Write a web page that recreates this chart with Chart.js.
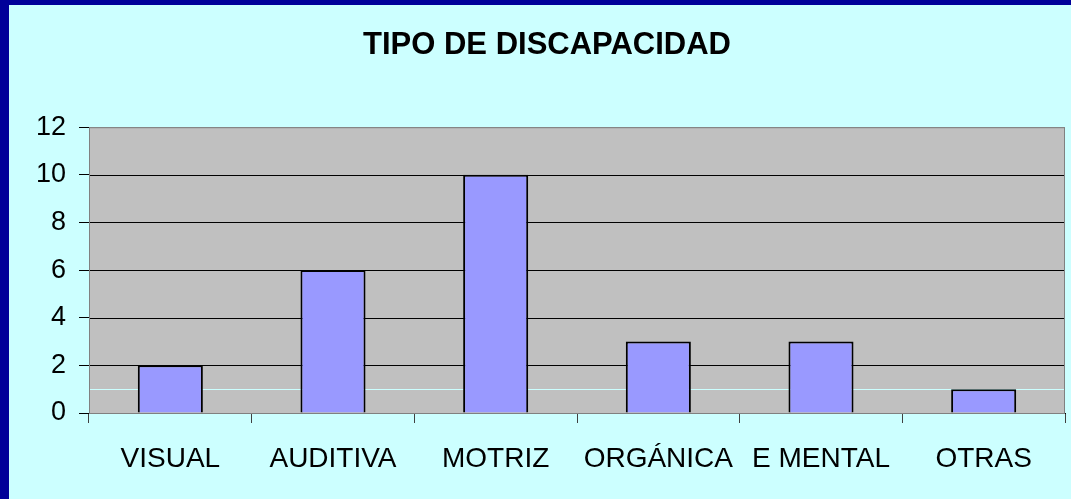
<!DOCTYPE html>
<html>
<head>
<meta charset="utf-8">
<script src="https://cdn.jsdelivr.net/npm/chart.js@4.4.1/dist/chart.umd.min.js"></script>
<style>
  html, body { margin: 0; padding: 0; background: #000099; }
  #marco {
    position: absolute; left: 9px; top: 5px;
    width: 1062px; height: 494px; background: #CCFFFF;
  }
</style>
</head>
<body>
<div id="marco"><canvas id="grafico" width="1062" height="494"></canvas></div>
<script>
// Datos
const categorias = ['VISUAL', 'AUDITIVA', 'MOTRIZ', 'ORGÁNICA', 'E MENTAL', 'OTRAS'];
const valores = [2, 6, 10, 3, 3, 1];
const titulo = 'TIPO DE DISCAPACIDAD';

const fuente = "'Liberation Sans', Arial, sans-serif";

// Fondo gris del área de trazado y línea clara en el valor 1
const fondoPlot = {
  id: 'fondoPlot',
  beforeDatasetsDraw(chart) {
    const { ctx, chartArea: a, scales } = chart;
    ctx.save();
    ctx.fillStyle = '#C0C0C0';
    ctx.fillRect(a.left, a.top, a.right - a.left, a.bottom - a.top);
    // redibujar líneas de cuadrícula encima del fondo
    ctx.strokeStyle = '#000000';
    ctx.lineWidth = 1;
    [2, 4, 6, 8, 10].forEach((v) => {
      const y = Math.round(scales.y.getPixelForValue(v)) + 0.5;
      ctx.beginPath();
      ctx.moveTo(a.left, y);
      ctx.lineTo(a.right, y);
      ctx.stroke();
    });
    const y1 = Math.round(scales.y.getPixelForValue(1)) + 0.5;
    ctx.strokeStyle = '#CCFFFF';
    ctx.beginPath();
    ctx.moveTo(a.left, y1);
    ctx.lineTo(a.right, y1);
    ctx.stroke();
    ctx.strokeStyle = '#808080';
    ctx.strokeRect(a.left + 0.5, a.top + 0.5, a.right - a.left - 1, a.bottom - a.top);
    ctx.restore();
  },
};

new Chart(document.getElementById('grafico'), {
  type: 'bar',
  data: {
    labels: categorias,
    datasets: [{
      data: valores,
      backgroundColor: '#9999FF',
      borderColor: '#000000',
      borderWidth: 2,
      barPercentage: 0.4,
      categoryPercentage: 1,
    }],
  },
  options: {
    responsive: false,
    animation: false,
    layout: { padding: { left: 20, right: 6, top: 0, bottom: 0 } },
    plugins: {
      legend: { display: false },
      tooltip: { enabled: false },
      title: {
        display: true,
        text: titulo,
        color: '#000000',
        font: { family: fuente, size: 31, weight: 'bold' },
        padding: { top: 22, bottom: 63 },
      },
    },
    scales: {
      x: {
        offset: true,
        grid: {
          offset: true,
          drawOnChartArea: false,
          drawTicks: true,
          tickLength: 10,
          tickColor: '#404040',
        },
        border: { color: '#000000', width: 1 },
        ticks: {
          color: '#000000',
          padding: 19,
          maxRotation: 0,
          font: { family: fuente, size: 28 },
        },
        afterFit: (s) => { s.height = 86; },
      },
      y: {
        min: 0,
        max: 12,
        ticks: {
          stepSize: 2,
          color: '#000000',
          padding: 13,
          font: { family: fuente, size: 27 },
        },
        grid: {
          color: '#000000',
          drawTicks: true,
          tickLength: 10,
          tickColor: '#000000',
        },
        border: { color: '#202020', width: 1 },
        afterFit: (s) => { s.width = 60; },
      },
    },
  },
  plugins: [fondoPlot],
});
</script>
</body>
</html>
